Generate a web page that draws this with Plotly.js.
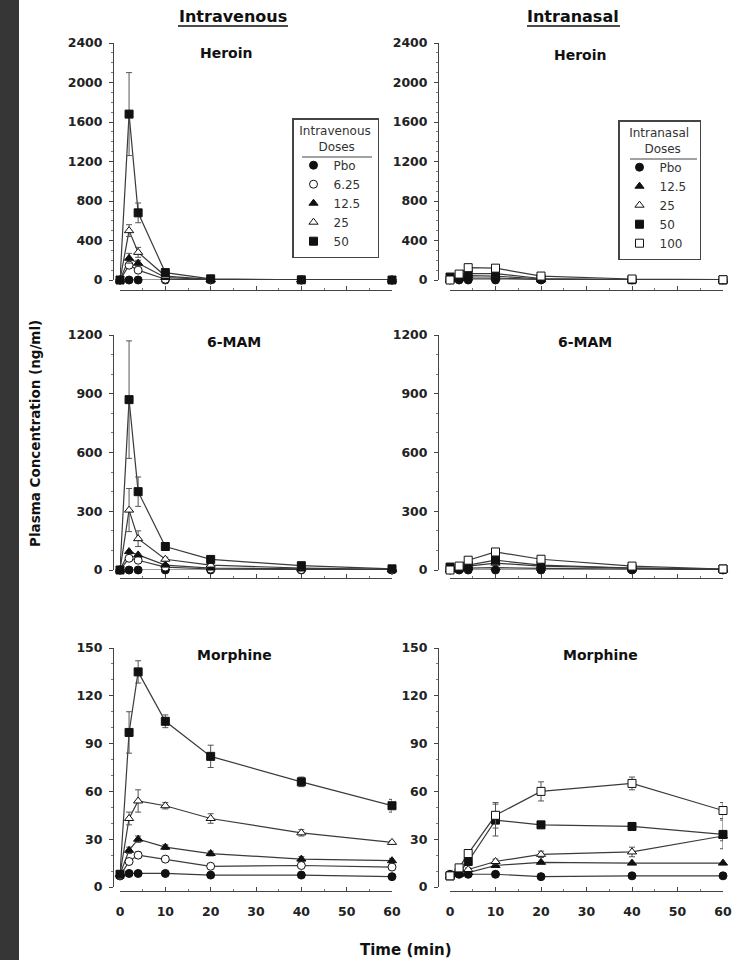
<!DOCTYPE html>
<html><head><meta charset="utf-8">
<script src="https://cdn.plot.ly/plotly-3.0.1.min.js"></script>
<style>html,body{margin:0;padding:0;background:#fff;}#chart{width:740px;height:960px;}</style>
</head><body><div id="chart"></div>
<script>
// ---- data ----
const time = [0, 2, 4, 10, 20, 40, 60];
const ivDoses = ['Pbo', '6.25', '12.5', '25', '50'];
const inDoses = ['Pbo', '12.5', '25', '50', '100'];
const xTicks = [0, 10, 20, 30, 40, 50, 60];

// Intravenous heroin
const ivHeroinPbo = [0, 0, 0, 0, 0, 0, 0];
const ivHeroin625 = [0, 150, 100, 8, 2, 0, 0];
const ivHeroin125 = [0, 220, 170, 25, 4, 0, 0];
const ivHeroin25 = [0, 500, 280, 40, 6, 1, 0];
const ivHeroin50 = [0, 1680, 680, 75, 12, 2, 0];
const ivHeroin625Err = [0, 30, 20, 2, 0, 0, 0];
const ivHeroin125Err = [0, 50, 30, 5, 0, 0, 0];
const ivHeroin25Err = [0, 60, 50, 8, 0, 0, 0];
const ivHeroin50Err = [0, 420, 100, 20, 3, 0, 0];

// Intranasal heroin
const inHeroinPbo = [0, 0, 0, 0, 0, 0, 0];
const inHeroin125 = [0, 10, 20, 20, 5, 0, 0];
const inHeroin25 = [0, 25, 45, 40, 10, 2, 0];
const inHeroin50 = [30, 35, 65, 65, 15, 3, 0];
const inHeroin100 = [0, 60, 125, 120, 40, 10, 3];

// Intravenous 6-MAM
const iv6mamPbo = [0, 0, 0, 0, 0, 0, 0];
const iv6mam625 = [0, 60, 50, 15, 5, 2, 0];
const iv6mam125 = [0, 94, 77, 25, 10, 5, 2];
const iv6mam25 = [0, 306, 160, 55, 25, 10, 3];
const iv6mam50 = [0, 870, 400, 120, 54, 22, 6];
const iv6mam25Err = [0, 110, 40, 10, 3, 0, 0];
const iv6mam50Err = [0, 300, 75, 10, 5, 3, 0];

// Intranasal 6-MAM
const in6mamPbo = [0, 0, 0, 0, 0, 0, 0];
const in6mam125 = [0, 5, 10, 12, 8, 5, 2];
const in6mam25 = [0, 10, 20, 35, 20, 10, 3];
const in6mam50 = [15, 10, 25, 50, 25, 10, 5];
const in6mam100 = [0, 20, 50, 92, 55, 20, 5];

// Intravenous morphine
const ivMorphPbo = [7, 8.5, 8.5, 8.5, 7.5, 7.5, 6.5];
const ivMorph625 = [7, 16, 20, 17.5, 13, 13.5, 12.5];
const ivMorph125 = [8, 23, 30, 25, 21, 17.5, 16.5];
const ivMorph25 = [8, 43, 54, 51, 43, 34, 28];
const ivMorph50 = [8, 97, 135, 104, 82, 66, 51];
const ivMorph625Err = [0, 1.5, 2, 1.5, 1, 1, 1];
const ivMorph125Err = [0, 2, 2, 1.5, 1.5, 1.5, 1.5];
const ivMorph25Err = [0, 4, 7, 2, 3, 2, 1];
const ivMorph50Err = [0, 13, 7, 4, 7, 3, 4];

// Intranasal morphine
const inMorphPbo = [8, 8, 8, 8, 6.5, 7, 7];
const inMorph125 = [7, 8, 9, 13.5, 15.5, 15, 15];
const inMorph25 = [7, 9, 11, 16, 20.5, 22, 32];
const inMorph50 = [7, 9, 16, 42, 39, 38, 33];
const inMorph100 = [7, 12, 21, 45, 60, 65, 48];
const inMorph25Err = [0, 0, 1, 1.5, 2, 3, 3];
const inMorph50Err = [0, 1, 1.5, 10, 1.5, 2, 9];
const inMorph100Err = [0, 1, 2, 8, 6, 4, 5];

// ---- styling ----
const FONT = 'DejaVu Sans';
const W = 740, H = 960;
const PX = p => p / W;
const PY = p => 1 - p / H;
const NB = '\u00a0';

const symbolFor = {
  'Pbo':  {symbol: 'circle', color: '#111', size: 8},
  '6.25': {symbol: 'circle', color: '#fff', size: 8},
  '12.5': {symbol: 'triangle-up', color: '#111', size: 8},
  '25':   {symbol: 'triangle-up', color: '#fff', size: 8},
  '50':   {symbol: 'square', color: '#111', size: 8},
  '100':  {symbol: 'square', color: '#fff', size: 8}
};

const panels = [
  {xa: 'x', ya: 'y', legend: 'legend', doses: ivDoses,
   vals: [ivHeroinPbo, ivHeroin625, ivHeroin125, ivHeroin25, ivHeroin50],
   errs: [null, ivHeroin625Err, ivHeroin125Err, ivHeroin25Err, ivHeroin50Err]},
  {xa: 'x2', ya: 'y2', legend: 'legend2', doses: inDoses,
   vals: [inHeroinPbo, inHeroin125, inHeroin25, inHeroin50, inHeroin100],
   errs: [null, null, null, null, null]},
  {xa: 'x3', ya: 'y3', legend: null, doses: ivDoses,
   vals: [iv6mamPbo, iv6mam625, iv6mam125, iv6mam25, iv6mam50],
   errs: [null, null, null, iv6mam25Err, iv6mam50Err]},
  {xa: 'x4', ya: 'y4', legend: null, doses: inDoses,
   vals: [in6mamPbo, in6mam125, in6mam25, in6mam50, in6mam100],
   errs: [null, null, null, null, null]},
  {xa: 'x5', ya: 'y5', legend: null, doses: ivDoses,
   vals: [ivMorphPbo, ivMorph625, ivMorph125, ivMorph25, ivMorph50],
   errs: [null, ivMorph625Err, ivMorph125Err, ivMorph25Err, ivMorph50Err]},
  {xa: 'x6', ya: 'y6', legend: null, doses: inDoses,
   vals: [inMorphPbo, inMorph125, inMorph25, inMorph50, inMorph100],
   errs: [null, null, inMorph25Err, inMorph50Err, inMorph100Err]}
];

const traces = [];
panels.forEach(p => {
  p.vals.forEach((v, i) => {
    traces.push({x: time, y: v, xaxis: p.xa, yaxis: p.ya, mode: 'lines',
      line: {color: '#3a3a3a', width: 1.2}, showlegend: false, hoverinfo: 'skip', cliponaxis: false});
  });
});
panels.forEach(p => {
  p.vals.forEach((v, i) => {
    const s = symbolFor[p.doses[i]];
    const t = {x: time, y: v, xaxis: p.xa, yaxis: p.ya, mode: 'markers', name: p.doses[i],
      marker: {symbol: s.symbol, color: s.color, size: s.size, line: {color: '#111', width: 1}},
      showlegend: !!p.legend, cliponaxis: false};
    if (p.legend) t.legend = p.legend;
    if (p.errs[i]) t.error_y = {type: 'data', array: p.errs[i], visible: true, color: '#555', thickness: 1, width: 3};
    traces.push(t);
  });
});

const tickFont = {family: FONT, size: 12.5, color: '#222', weight: 'bold'};
function yAxis(range, dtick, minor, domain, pos) {
  return {domain: domain, range: range, dtick: dtick, tick0: 0, anchor: 'free', position: pos,
    showline: true, linecolor: '#444', linewidth: 1, showgrid: false, zeroline: false,
    ticks: 'outside', ticklen: 4, tickcolor: '#444', tickfont: tickFont, ticklabelstandoff: 4,
    minor: {dtick: minor, ticks: 'outside', ticklen: 2, tickcolor: '#777', showgrid: false}};
}
function xAxis(domain, pos, labels) {
  return {domain: domain, range: [0, 60], tickvals: xTicks, ticktext: xTicks.map(String),
    anchor: 'free', position: pos,
    showline: true, linecolor: '#444', linewidth: 1, showgrid: false, zeroline: false,
    ticks: 'inside', ticklen: 4, tickcolor: '#444', showticklabels: labels, tickfont: tickFont,
    ticklabelstandoff: 9,
    minor: {tickvals: [5, 15, 25, 35, 45, 55], ticks: 'inside', ticklen: 2, tickcolor: '#777', showgrid: false}};
}
const leftX = [PX(120), PX(392)], rightX = [PX(450), PX(723)];
const topY = [PY(280), PY(43)], midY = [PY(570), PY(335)], botY = [PY(887), PY(648)];
const yPosL = PX(113), yPosR = PX(438);
const xPosT = PY(290), xPosM = PY(578), xPosB = PY(891);

const legendFont = {family: FONT, size: 12, color: '#333'};
const note = (txt, x, y, size, extra) => Object.assign({text: txt, x: PX(x), y: PY(y), xref: 'paper', yref: 'paper',
  showarrow: false, xanchor: 'center', yanchor: 'middle', font: {family: FONT, size: size, color: '#111', weight: 'bold'}}, extra || {});

const layout = {
  width: W, height: H, margin: {l: 0, r: 0, t: 0, b: 0},
  paper_bgcolor: '#fff', plot_bgcolor: 'rgba(0,0,0,0)', showlegend: true,
  xaxis: xAxis(leftX, xPosT, false), yaxis: yAxis([0, 2400], 400, 100, topY, yPosL),
  xaxis2: xAxis(rightX, xPosT, false), yaxis2: yAxis([0, 2400], 400, 100, topY, yPosR),
  xaxis3: xAxis(leftX, xPosM, false), yaxis3: yAxis([0, 1200], 300, 100, midY, yPosL),
  xaxis4: xAxis(rightX, xPosM, false), yaxis4: yAxis([0, 1200], 300, 100, midY, yPosR),
  xaxis5: xAxis(leftX, xPosB, true), yaxis5: yAxis([0, 150], 30, 10, botY, yPosL),
  xaxis6: xAxis(rightX, xPosB, true), yaxis6: yAxis([0, 150], 30, 10, botY, yPosR),
  legend: {x: PX(292), y: PY(118), xanchor: 'left', yanchor: 'top', bgcolor: 'rgba(0,0,0,0)',
    bordercolor: '#444', borderwidth: 1.5, font: legendFont, itemwidth: 30, tracegroupgap: 0,
    title: {text: NB + 'Intravenous' + NB + '<br>' + NB.repeat(6) + 'Doses', side: 'top', font: legendFont}},
  legend2: {x: PX(618), y: PY(120), xanchor: 'left', yanchor: 'top', bgcolor: 'rgba(0,0,0,0)',
    bordercolor: '#444', borderwidth: 1.5, font: legendFont, itemwidth: 30, tracegroupgap: 0,
    title: {text: NB.repeat(2) + 'Intranasal' + NB.repeat(2) + '<br>' + NB.repeat(6) + 'Doses', side: 'top', font: legendFont}},
  annotations: [
    note('Intravenous', 233, 16, 16), note('Intranasal', 573, 16, 16),
    note('Heroin', 226, 53, 14), note('Heroin', 580, 55, 14),
    note('6-MAM', 234, 342, 14), note('6-MAM', 585, 342, 14),
    note('Morphine', 235, 655, 14), note('Morphine', 600, 655, 14),
    note('Plasma Concentration (ng/ml)', 35, 434, 13.5, {textangle: -90}),
    note('Time (min)', 406, 950, 15)
  ],
  shapes: [
    {type: 'rect', xref: 'paper', yref: 'paper', x0: 0, x1: PX(19), y0: 0, y1: 1,
     fillcolor: '#363636', line: {width: 0}, layer: 'below'},
    {type: 'line', xref: 'paper', yref: 'paper', x0: PX(178), x1: PX(288), y0: PY(26), y1: PY(26), line: {color: '#111', width: 1.5}},
    {type: 'line', xref: 'paper', yref: 'paper', x0: PX(527), x1: PX(620), y0: PY(26), y1: PY(26), line: {color: '#111', width: 1.5}},
    {type: 'line', xref: 'paper', yref: 'paper', x0: PX(302), x1: PX(372), y0: PY(157), y1: PY(157), line: {color: '#444', width: 1}},
    {type: 'line', xref: 'paper', yref: 'paper', x0: PX(630), x1: PX(697), y0: PY(159), y1: PY(159), line: {color: '#444', width: 1}}
  ]
};

Plotly.newPlot('chart', traces, layout, {displayModeBar: false, staticPlot: true});
</script></body></html>
